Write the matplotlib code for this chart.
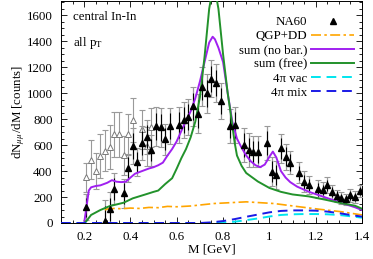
import matplotlib
matplotlib.use("Agg")
import matplotlib.pyplot as plt
from matplotlib.ticker import MultipleLocator

plt.rcParams['font.family'] = ['Liberation Serif', 'DejaVu Serif']
plt.rcParams['mathtext.fontset'] = 'stix'

# ---- data ----
m_filled = [0.21, 0.29, 0.31, 0.33, 0.37, 0.39, 0.41, 0.43, 0.45, 0.47, 0.49, 0.51, 0.53, 0.55,
            0.57, 0.61, 0.63, 0.65, 0.67, 0.69, 0.71, 0.73, 0.75, 0.77, 0.79, 0.83, 0.85, 0.89,
            0.91, 0.93, 0.95, 0.99, 1.01, 1.03, 1.05, 1.07, 1.09, 1.13, 1.15, 1.17, 1.21, 1.23,
            1.25, 1.27, 1.29, 1.31, 1.33, 1.35, 1.37, 1.39]
v_filled = [120, 18, 105, 265, 228, 425, 595, 470, 615, 665, 560, 745, 738, 645,
            745, 754, 792, 818, 900, 840, 1050, 1000, 1113, 1079, 940, 746, 754, 600,
            565, 550, 548, 615, 395, 369, 574, 512, 465, 387, 318, 292, 259, 254,
            292, 241, 208, 190, 182, 215, 198, 248]
err_tot = [100, 160, 130, 120, 110, 110, 140, 110, 130, 130, 120, 150, 150, 120,
           140, 140, 140, 140, 150, 150, 150, 150, 145, 145, 140, 130, 140, 130,
           130, 120, 120, 130, 110, 110, 110, 100, 90, 80, 80, 70, 70, 60,
           60, 55, 50, 45, 45, 50, 45, 45]
err_stat = [70, 110, 90, 85, 80, 80, 100, 80, 90, 90, 85, 105, 105, 85,
            100, 100, 100, 100, 105, 105, 105, 105, 100, 100, 100, 90, 100, 90,
            90, 85, 85, 90, 80, 80, 80, 70, 65, 55, 55, 50, 50, 42,
            42, 38, 35, 32, 32, 35, 32, 32]

m_open = [0.21, 0.23, 0.25, 0.27, 0.29, 0.31, 0.33, 0.35, 0.37, 0.39, 0.41, 0.45, 0.47, 0.49]
v_open = [352, 487, 403, 515, 558, 587, 682, 682, 522, 682, 792, 722, 590, 738]
err_open = [110, 150, 140, 170, 160, 170, 170, 170, 150, 160, 170, 150, 150, 150]

m_nobar = [0.20, 0.21, 0.22, 0.23, 0.25, 0.27, 0.30, 0.32, 0.34, 0.36, 0.38, 0.40, 0.42, 0.45,
           0.48, 0.50, 0.52, 0.54, 0.56, 0.58, 0.60, 0.63, 0.66, 0.68, 0.70, 0.72, 0.74, 0.755,
           0.765, 0.78, 0.80, 0.82, 0.84, 0.86, 0.88, 0.90, 0.92, 0.94, 0.96, 0.98, 1.00, 1.015,
           1.03, 1.05, 1.07, 1.09, 1.12, 1.17, 1.24, 1.31, 1.37, 1.40]
v_nobar = [0, 120, 250, 275, 285, 290, 310, 330, 318, 315, 318, 350, 380, 400,
           420, 430, 445, 465, 520, 570, 630, 750, 860, 960, 1090, 1240, 1390, 1435,
           1415, 1350, 1240, 1000, 780, 650, 580, 520, 475, 445, 430, 450, 510, 550,
           505, 400, 350, 315, 280, 241, 198, 156, 121, 100]

m_free = [0.20, 0.21, 0.23, 0.27, 0.31, 0.37, 0.41, 0.47, 0.50, 0.52, 0.55, 0.58, 0.60, 0.62,
          0.64, 0.66, 0.68, 0.70, 0.72, 0.74, 0.76, 0.78, 0.80, 0.82, 0.83, 0.85, 0.86, 0.88,
          0.90, 0.95, 1.00, 1.05, 1.10, 1.17, 1.24, 1.31, 1.37, 1.40]
v_free = [0, 15, 62, 100, 130, 156, 190, 223, 240, 250, 300, 345, 420, 500,
          570, 660, 780, 970, 1280, 1650, 1850, 1650, 1300, 1000, 880, 620, 520, 440,
          385, 320, 270, 240, 220, 205, 180, 153, 133, 110]

m_qgp = [0.29, 0.30, 0.33, 0.36, 0.40, 0.44, 0.48, 0.52, 0.56, 0.60, 0.66, 0.76, 0.90, 1.02,
         1.12, 1.22, 1.31, 1.40]
v_qgp = [100, 108, 112, 110, 115, 112, 120, 118, 128, 125, 131, 150, 163, 150,
         127, 105, 87, 62]

m_vac = [0.10, 0.75, 0.80, 0.85, 0.90, 0.95, 1.00, 1.05, 1.10, 1.15, 1.20, 1.25, 1.30, 1.35, 1.40]
v_vac = [0, 0, 3, 10, 22, 35, 50, 62, 67, 69, 69, 67, 62, 52, 41]

m_mix = [0.10, 0.70, 0.75, 0.80, 0.85, 0.90, 0.95, 1.00, 1.05, 1.10, 1.15, 1.20, 1.25, 1.30, 1.35, 1.40]
v_mix = [0, 0, 5, 15, 30, 48, 65, 82, 93, 97, 97, 95, 88, 76, 62, 49]

FS = 9.3

# ---- figure ----
fig = plt.figure(figsize=(3.73, 2.59), dpi=100)
ax = fig.add_axes([0.1635, 0.139, 0.807, 0.857])

# open triangles (grey)
ax.errorbar(m_open, v_open, yerr=err_open, fmt='none', ecolor='#9a9a9a', elinewidth=0.8,
            capsize=2, capthick=0.8, zorder=2)
ax.plot(m_open, v_open, linestyle='none', marker='^', markersize=5, markerfacecolor='white',
        markeredgecolor='#7a7a7a', markeredgewidth=0.7, zorder=3)

# filled triangles: total (grey) + stat (black)
ax.errorbar(m_filled, v_filled, yerr=err_tot, fmt='none', ecolor='#9a9a9a', elinewidth=0.9,
            capsize=2, capthick=0.8, zorder=4)
ax.errorbar(m_filled, v_filled, yerr=err_stat, fmt='none', ecolor='black', elinewidth=0.8,
            capsize=0, zorder=5)

# model curves
ax.plot(m_qgp, v_qgp, color='#ffa500', linestyle=(0, (6, 2, 1.5, 2)), linewidth=1.2,
        label='QGP+DD', zorder=6)
ax.plot(m_nobar, v_nobar, color='#a020f0', linewidth=1.4, label='sum (no bar.)', zorder=6)
ax.plot(m_free, v_free, color='#22922b', linewidth=1.4, label='sum (free)', zorder=6)
ax.plot(m_vac, v_vac, color='#00e5ee', linestyle=(0, (5, 3)), linewidth=1.4,
        label='4π vac', zorder=6)
ax.plot(m_mix, v_mix, color='#1a1ae6', linestyle=(0, (5, 3)), linewidth=1.4,
        label='4π mix', zorder=6)

ax.plot(m_filled, v_filled, linestyle='none', marker='^', markersize=5, color='black',
        label='NA60', zorder=7)

ax.set_xlim(0.1, 1.4)
ax.set_ylim(0, 1710)
ax.xaxis.set_major_locator(MultipleLocator(0.2))
ax.xaxis.set_minor_locator(MultipleLocator(0.05))
ax.yaxis.set_major_locator(MultipleLocator(200))
ax.yaxis.set_minor_locator(MultipleLocator(50))
ax.tick_params(which='both', direction='in', top=True, right=True, labelsize=FS, width=0.6)
ax.tick_params(which='major', length=4)
ax.tick_params(which='minor', length=2)
ax.tick_params(axis='y', which='major', pad=6)
ax.tick_params(axis='x', which='major', pad=6)
for s in ax.spines.values():
    s.set_linewidth(0.7)
ax.set_xticks([0.2, 0.4, 0.6, 0.8, 1.0, 1.2, 1.4])
ax.set_xticklabels(['0.2', '0.4', '0.6', '0.8', '1', '1.2', '1.4'])

ax.set_xlabel('M [GeV]', fontsize=FS, labelpad=0)
ax.set_ylabel(r'dN$_{\mu\mu}$/dM [counts]', fontsize=FS, labelpad=0)

ax.text(0.04, 0.928, 'central In-In', transform=ax.transAxes, fontsize=FS, va='center')
ax.text(0.04, 0.81, r'all p$_\mathrm{T}$', transform=ax.transAxes, fontsize=FS, va='center')

h, l = ax.get_legend_handles_labels()
order = ['NA60', 'QGP+DD', 'sum (no bar.)', 'sum (free)', '4π vac', '4π mix']
hh = [h[l.index(o)] for o in order]
leg = ax.legend(hh, order, loc='upper right', bbox_to_anchor=(0.99, 0.955), frameon=False,
                markerfirst=False, fontsize=FS, handlelength=3.3, handletextpad=0.3,
                labelspacing=0.16, borderaxespad=0.2, borderpad=0.2)

fig.savefig('out.png', dpi=100)
